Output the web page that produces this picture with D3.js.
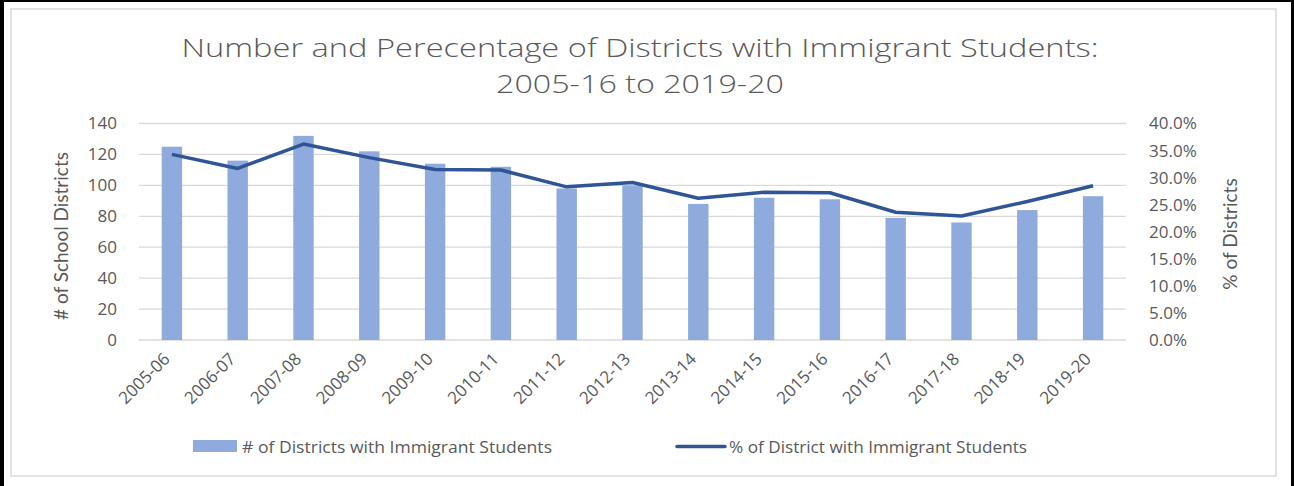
<!DOCTYPE html>
<html>
<head>
<meta charset="utf-8">
<script src="https://cdnjs.cloudflare.com/ajax/libs/d3/7.8.5/d3.min.js"></script>
<style>
body { margin:0; background:#fff; }
text { font-family: "Open Sans", sans-serif; fill:#595959; }
</style>
</head>
<body>
<div id="plot"></div>
<script>
/* data */
var years = ['2005-06','2006-07','2007-08','2008-09','2009-10','2010-11','2011-12','2012-13',
	'2013-14','2014-15','2015-16','2016-17','2017-18','2018-19','2019-20'];
var districtCounts = [125,116,132,122,114,112,98,100,88,92,91,79,76,84,93];
var districtPcts = [0.343,0.317,0.362,0.337,0.315,0.314,0.283,0.291,0.262,0.273,0.272,0.236,0.229,0.256,0.285];
var leftTicks = [0,20,40,60,80,100,120,140];
var rightTicks = [0,0.05,0.10,0.15,0.20,0.25,0.30,0.35,0.40];
var titleLines = ['Number and Perecentage of Districts with Immigrant Students:','2005-16 to 2019-20'];
var seriesNames = ['# of Districts with Immigrant Students','% of District with Immigrant Students'];

var W = 1294, H = 486;
var margin = {t:123.5,r:W-1126,b:H-340,l:139};
var width = W - margin.l - margin.r,
	height = H - margin.t - margin.b;

var svg = d3.select('#plot')
	.append('svg')
	.attr('width',W)
	.attr('height',H);

// frame: black outer edge, light grey chart border
svg.append('rect').attr('x',0).attr('y',0).attr('width',W).attr('height',H).style('fill','#000');
svg.append('rect').attr('x',4).attr('y',2).attr('width',1287).attr('height',H-2).style('fill','#fff');
svg.append('rect')
	.attr('x',11).attr('y',9).attr('width',1265).attr('height',467)
	.style('fill','none').style('stroke','#d9d9d9').style('stroke-width',1.5);

// title (stretched to the widths seen in the original)
var titleWidths = [917,288];
svg.selectAll('.title')
	.data(titleLines)
	.enter()
	.append('text')
	.attr('class','title')
	.attr('x',640)
	.attr('y',function (d,i) {return 57 + i*36;})
	.attr('text-anchor','middle')
	.attr('textLength',function (d,i) {return titleWidths[i];})
	.attr('lengthAdjust','spacingAndGlyphs')
	.style('font-size','26px')
	.style('font-weight','300')
	.text(function (d) {return d;});

var plot = svg.append('g')
	.attr('transform','translate('+margin.l+','+margin.t+')');

var x = d3.scaleBand().domain(years).range([0,width]).paddingInner(0.69).paddingOuter(0.345);
var y = d3.scaleLinear().domain([0,140]).range([height,0]);
var y2 = d3.scaleLinear().domain([0,0.4]).range([height,0]);

// gridlines
plot.selectAll('.grid')
	.data(leftTicks)
	.enter()
	.append('line')
	.attr('class','grid')
	.attr('x1',0).attr('x2',width)
	.attr('y1',function (d) {return y(d);})
	.attr('y2',function (d) {return y(d);})
	.style('stroke','#d9d9d9')
	.style('stroke-width',1.3);

// bars
plot.selectAll('.bar')
	.data(districtCounts)
	.enter()
	.append('rect')
	.attr('class','bar')
	.attr('x',function (d,i) {return x(years[i]);})
	.attr('y',function (d) {return y(d);})
	.attr('width',x.bandwidth())
	.attr('height',function (d) {return height - y(d);})
	.style('fill','#8faadc');

// line
var line = d3.line()
	.x(function (d,i) {return x(years[i]) + x.bandwidth()/2;})
	.y(function (d) {return y2(d);});

plot.append('path')
	.datum(districtPcts)
	.attr('d',line)
	.style('fill','none')
	.style('stroke','#2f5597')
	.style('stroke-width',3.5)
	.style('stroke-linejoin','round');

// left axis
var leftAxis = plot.append('g')
	.call(d3.axisLeft(y).tickValues(leftTicks).tickSize(0).tickPadding(22));
leftAxis.select('.domain').remove();
leftAxis.selectAll('text').style('font-family','"Open Sans", sans-serif').style('font-size','17px').style('fill','#595959');

// right axis
var rightAxis = plot.append('g')
	.attr('transform','translate('+width+',0)')
	.call(d3.axisRight(y2).tickValues(rightTicks).tickSize(0).tickPadding(23).tickFormat(d3.format('.1%')));
rightAxis.select('.domain').remove();
rightAxis.selectAll('text').style('font-family','"Open Sans", sans-serif').style('font-size','17px').style('fill','#595959');

// bottom axis
var bottomAxis = plot.append('g')
	.attr('transform','translate(0,'+height+')')
	.call(d3.axisBottom(x).tickSize(0).tickPadding(0));
bottomAxis.select('.domain').remove();
bottomAxis.selectAll('text')
	.style('font-family','"Open Sans", sans-serif')
	.style('font-size','17px')
	.style('fill','#595959')
	.attr('text-anchor','end')
	.attr('dy','0')
	.attr('transform','translate(-1,20) rotate(-45)');

// axis titles
svg.append('text')
	.attr('transform','translate(68,236) rotate(-90)')
	.attr('text-anchor','middle')
	.style('font-family','Lato, sans-serif')
	.style('font-size','19px')
	.text('# of School Districts');
svg.append('text')
	.attr('transform','translate(1237,234) rotate(-90)')
	.attr('text-anchor','middle')
	.style('font-family','Lato, sans-serif')
	.style('font-size','19px')
	.text('% of Districts');

// legend
var legend = svg.append('g');
legend.append('rect')
	.attr('x',193).attr('y',440).attr('width',44).attr('height',12)
	.style('fill','#8faadc');
legend.append('text')
	.attr('x',242).attr('y',453)
	.attr('textLength',310)
	.attr('lengthAdjust','spacingAndGlyphs')
	.style('font-size','17px')
	.text(seriesNames[0]);
legend.append('line')
	.attr('x1',677).attr('x2',725).attr('y1',446.5).attr('y2',446.5)
	.style('stroke','#2f5597').style('stroke-width',3.5).style('stroke-linecap','round');
legend.append('text')
	.attr('x',729).attr('y',453)
	.attr('textLength',298)
	.attr('lengthAdjust','spacingAndGlyphs')
	.style('font-size','17px')
	.text(seriesNames[1]);
</script>
</body>
</html>
